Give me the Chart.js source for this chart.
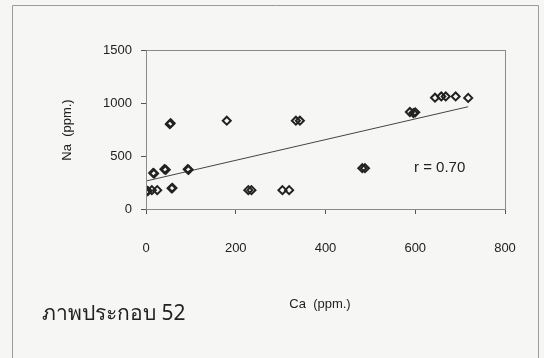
<!DOCTYPE html>
<html>
<head>
<meta charset="utf-8">
<script src="https://cdn.jsdelivr.net/npm/chart.js@4.4.0/dist/chart.umd.min.js"></script>
<style>
  html, body { margin: 0; padding: 0; background: #f6f6f4; }
  .wrap { width: 544px; height: 358px; }
</style>
</head>
<body>
<div class="wrap"><canvas class="js-naca"></canvas></div>
<script>
// Ca (ppm.) vs Na (ppm.)
const caValues = [1, 4, 13, 25, 16, 18, 41, 44, 53, 55, 57, 59, 93, 95, 180, 228, 235, 304, 319, 334, 343, 482, 488, 588, 596, 600, 644, 658, 668, 690, 718];
const naValues = [165, 170, 178, 178, 340, 335, 375, 370, 800, 810, 195, 198, 375, 370, 833, 178, 178, 178, 178, 833, 833, 385, 385, 915, 905, 912, 1050, 1062, 1062, 1062, 1048];

// trend line end points
const trendCa = [0, 718];
const trendNa = [264, 965];

const xTicks = [0, 200, 400, 600, 800];
const yTicks = [0, 500, 1000, 1500];

const FONT = "'Liberation Sans', Arial, sans-serif";

const frameText = {
  id: "frameText",
  afterDraw(chart) {
    const ctx = chart.ctx;
    const a = chart.chartArea;
    ctx.save();
    // plot box
    ctx.strokeStyle = "#8a8a8a";
    ctx.lineWidth = 1;
    ctx.strokeRect(a.left + 0.5, a.top + 0.5, a.right - a.left, a.bottom - a.top);
    // outer frame
    ctx.strokeStyle = "#9a9a9a";
    ctx.beginPath();
    ctx.moveTo(12.5, 360);
    ctx.lineTo(12.5, 5.5);
    ctx.lineTo(538.5, 5.5);
    ctx.lineTo(538.5, 360);
    ctx.stroke();

    ctx.fillStyle = "#222";
    ctx.textBaseline = "middle";
    // r label
    ctx.font = "15px " + FONT;
    ctx.textAlign = "left";
    ctx.fillText("r = 0.70", 414, 168);
    // x title
    ctx.font = "13px " + FONT;
    ctx.textAlign = "center";
    ctx.fillText("Ca  (ppm.)", 320, 304);
    // y title
    ctx.save();
    ctx.translate(67, 130);
    ctx.rotate(-Math.PI / 2);
    ctx.fillText("Na  (ppm.)", 0, 0);
    ctx.restore();
    // caption
    ctx.font = "21px 'Noto Sans', 'DejaVu Sans', sans-serif";
    ctx.textAlign = "left";
    ctx.fillText("ภาพประกอบ 52", 42, 314);
    ctx.restore();
  },
};

const chartNaCa = function () {
  const el = document.querySelector(".js-naca");
  const points = caValues.map((x, i) => ({ x: x, y: naValues[i] }));
  const trend = trendCa.map((x, i) => ({ x: x, y: trendNa[i] }));

  new Chart(el, {
    type: "scatter",
    data: {
      datasets: [
        {
          data: points,
          pointStyle: "rectRot",
          pointRadius: 4,
          pointBorderWidth: 2,
          borderColor: "#222",
          backgroundColor: "rgba(0,0,0,0)",
        },
        {
          type: "line",
          data: trend,
          borderColor: "#444",
          borderWidth: 1,
          pointRadius: 0,
          fill: false,
        },
      ],
    },
    options: {
      responsive: false,
      animation: false,
      layout: { padding: { left: 0, right: 39, top: 50, bottom: 0 } },
      scales: {
        x: {
          type: "linear",
          min: 0,
          max: 800,
          afterFit: (s) => { s.height = 358 - 209; },
          afterBuildTicks: (s) => { s.ticks = xTicks.map((v) => ({ value: v })); },
          grid: { display: true, drawOnChartArea: false, tickLength: 5, color: "#555" },
          border: { color: "#555" },
          ticks: {
            padding: 27,
            color: "#222",
            font: { family: FONT, size: 13 },
            callback: (v) => String(v),
          },
        },
        y: {
          min: 0,
          max: 1500,
          afterFit: (s) => { s.width = 146; },
          afterBuildTicks: (s) => { s.ticks = yTicks.map((v) => ({ value: v })); },
          grid: { display: true, drawOnChartArea: false, tickLength: 5, color: "#555" },
          border: { color: "#555" },
          ticks: {
            padding: 9,
            color: "#222",
            font: { family: FONT, size: 13 },
            callback: (v) => String(v),
          },
        },
      },
      plugins: {
        legend: { display: false },
        tooltip: { enabled: false },
      },
    },
    plugins: [frameText],
  });
};

const init = function () {
  const c = document.querySelector(".js-naca");
  c.width = 544;
  c.height = 358;
  chartNaCa();
};

document.addEventListener("DOMContentLoaded", init);
</script>
</body>
</html>
